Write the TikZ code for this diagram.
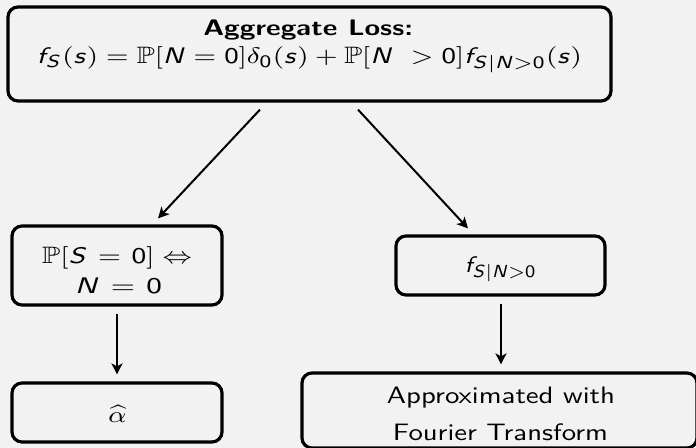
\documentclass[tikz,border=0pt]{standalone}
\usepackage{amssymb}
\usepackage{graphicx}
\usetikzlibrary{arrows.meta,calc}
\renewcommand\familydefault{\sfdefault}
\DeclareSymbolFont{sfit}{OT1}{cmss}{m}{sl}
\DeclareSymbolFont{sfup}{OT1}{cmss}{m}{n}
\DeclareMathSymbol{f}{\mathalpha}{sfit}{`f}
\DeclareMathSymbol{s}{\mathalpha}{sfit}{`s}
\DeclareMathSymbol{S}{\mathalpha}{sfit}{`S}
\DeclareMathSymbol{N}{\mathalpha}{sfit}{`N}
\DeclareMathSymbol{0}{\mathord}{sfup}{`0}
\newcommand\boldsans{\fontencoding{OT1}\fontfamily{cmss}\fontseries{bx}\selectfont}
\newcommand\fitw[2]{\resizebox{#1}{\height}{#2}}
\definecolor{bgcol}{HTML}{F2F2F2}
\tikzset{
  box/.style={draw=black, line width=1.28pt, rounded corners=4pt, inner sep=0pt},
  txt/.style={anchor=base, inner sep=0pt, text=black},
  arr/.style={-{Stealth[length=4.4pt, width=4.4pt, inset=1.2pt]}, line width=0.8pt, draw=black}
}
\begin{document}
\begin{tikzpicture}[x=0.4pt, y=-0.4pt, font=\fontsize{9.5}{11.4}\selectfont]
\fill[bgcol] (0,0) rectangle (696,448);
\useasboundingbox (0,0) rectangle (696,448);
% boxes
\node[box, minimum width=241.2pt, minimum height=37.6pt] (top) at (309.5,54) {};
\node[box, minimum width=84pt, minimum height=31.6pt] (lm) at (117,265.5) {};
\node[box, minimum width=83.6pt, minimum height=23.6pt] (rm) at (500.5,265.5) {};
\node[box, minimum width=84pt, minimum height=23.6pt] (bl) at (117,412.5) {};
\node[box, minimum width=158pt, minimum height=30pt] (br) at (499.5,410.5) {};
% texts
\node[txt] (t1) at (308.2,35.7) {\fitw{83.9pt}{\boldsans Aggregate Loss:}};
\node[txt] (t2) at (309.5,63.5) {\fitw{218pt}{$f_S(s)=\mathbb{P}[N=0]\delta_0(s)+\mathbb{P}[N\ >0]f_{S|N>0}(s)$}};
\node[txt] (l1) at (117,263) {\fitw{60pt}{$\mathbb{P}[S\mkern1.5mu=\mkern1.5mu0]\Leftrightarrow$}};
\node[txt] (l2) at (118.5,293) {\fitw{34.8pt}{$N\mkern1.5mu=\mkern1.5mu0$}};
\node[txt] (r1) at (500.8,272) {\fitw{28.7pt}{$f_{S|N>0}$}};
\node[txt] (b1) at (117.5,422) {\scalebox{1.22}[1]{$\widehat{\alpha}$}};
\node[txt] (b2) at (501,403) {\fitw{91.2pt}{Approximated with}};
\node[txt] (b3) at (500.5,440) {\fitw{86pt}{Fourier Transform}};
% arrows
\draw[arr] ($(top.south)+(-49.5,7)$) -- ($(lm.north)+(41,-6)$);
\draw[arr] ($(top.south)+(48.5,7)$) -- ($(rm.north)+(-32.5,-6)$);
\draw[arr] ($(lm.south)+(0,7)$) -- ($(bl.north)+(0,-7)$);
\draw[arr] ($(rm.south)+(0.5,7)$) -- ($(br.north)+(1.5,-7)$);
\end{tikzpicture}
\end{document}
